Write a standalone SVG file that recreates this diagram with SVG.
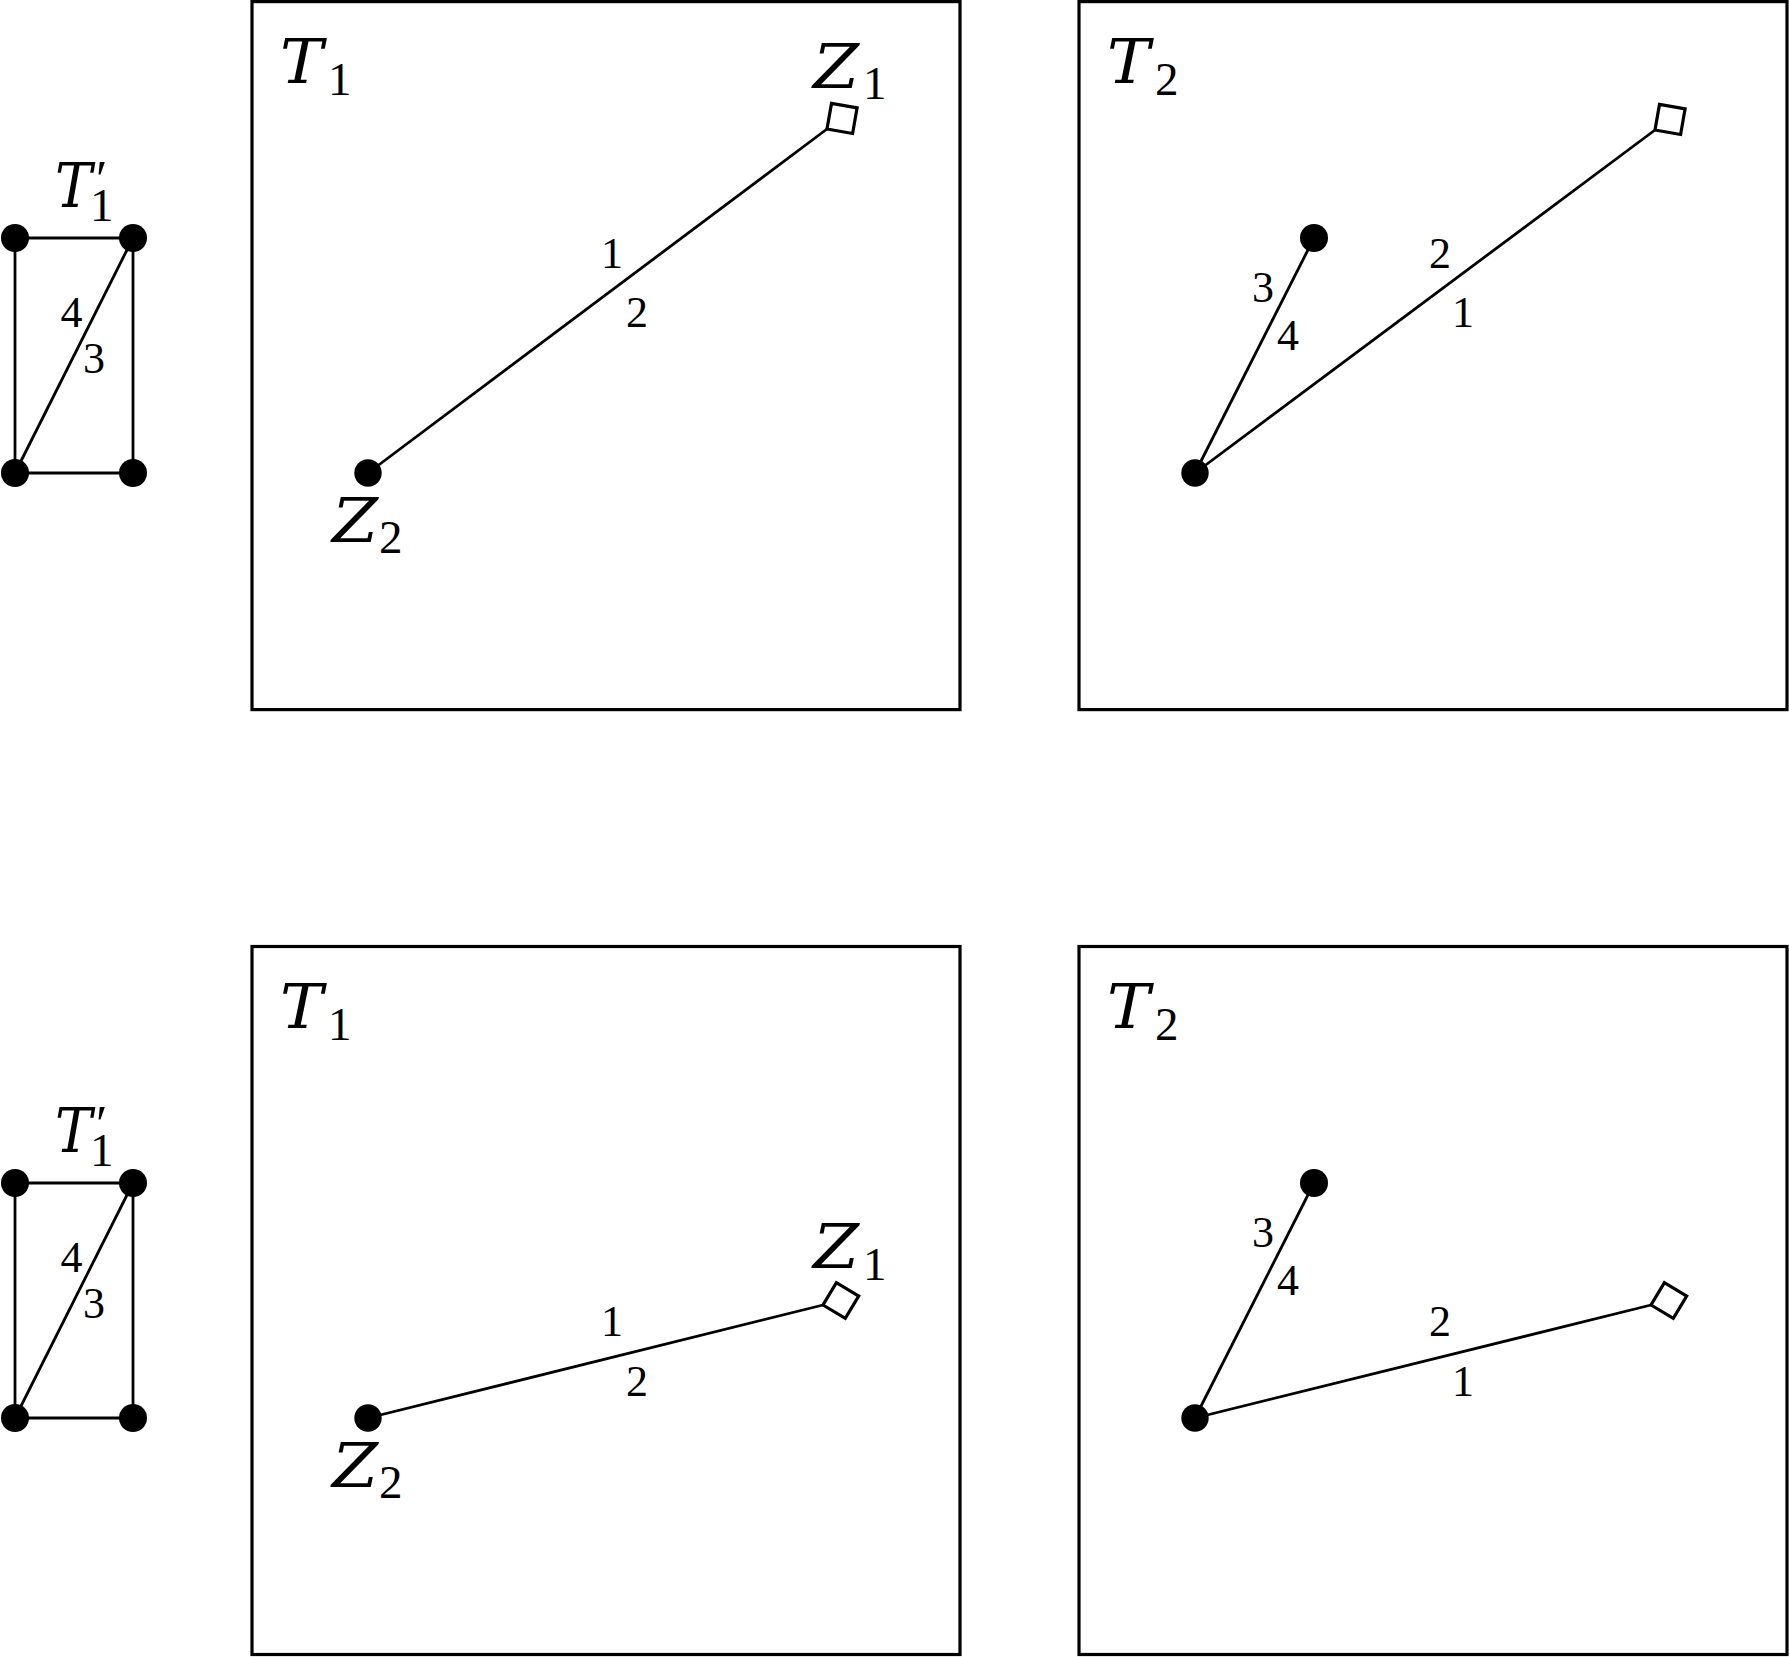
<svg xmlns="http://www.w3.org/2000/svg" width="1789" height="1657" viewBox="0 0 1789 1657">
<style>
.box{fill:none;stroke:#000;stroke-width:3.2}
.edge{fill:none;stroke:#000;stroke-width:2.8}
.dot{fill:#000}
.sq{fill:#fff;stroke:#000;stroke-width:3.2;stroke-linejoin:miter}
.big{font-family:"DejaVu Serif","Liberation Serif",serif;font-style:italic;font-size:61px;fill:#000}
.sub{font-family:"Liberation Serif","Times New Roman",serif;font-style:normal;font-size:47px}
.pr{font-family:"Liberation Serif","Times New Roman",serif;font-style:normal;font-size:52px}
.lbl{font-family:"Liberation Serif","Times New Roman",serif;font-size:44px;fill:#000;text-anchor:middle}
</style>
<rect width="1789" height="1657" fill="#fff"/>
<g id="frames">
<rect id="frame-T1-top" class="box" x="252" y="1.6" width="708" height="708"/>
<rect id="frame-T2-top" class="box" x="1079" y="1.6" width="708" height="708"/>
<rect id="frame-T1-bottom" class="box" x="252" y="946.5" width="708" height="708"/>
<rect id="frame-T2-bottom" class="box" x="1079" y="946.5" width="708" height="708"/>
</g>
<g id="connectors">
<line class="edge" x1="15" y1="238" x2="133" y2="238"/>
<line class="edge" x1="15" y1="238" x2="15" y2="473"/>
<line class="edge" x1="133" y1="238" x2="133" y2="473"/>
<line class="edge" x1="15" y1="473" x2="133" y2="473"/>
<line class="edge" x1="133" y1="238" x2="15" y2="473"/>
<line class="edge" x1="368" y1="473" x2="827" y2="129"/>
<line class="edge" x1="1195" y1="473" x2="1655" y2="130"/>
<line class="edge" x1="1195" y1="473" x2="1314" y2="238"/>
<line class="edge" x1="15" y1="1183" x2="133" y2="1183"/>
<line class="edge" x1="15" y1="1183" x2="15" y2="1418"/>
<line class="edge" x1="133" y1="1183" x2="133" y2="1418"/>
<line class="edge" x1="15" y1="1418" x2="133" y2="1418"/>
<line class="edge" x1="133" y1="1183" x2="15" y2="1418"/>
<line class="edge" x1="368" y1="1418" x2="823" y2="1305"/>
<line class="edge" x1="1195" y1="1418" x2="1651" y2="1305"/>
<line class="edge" x1="1195" y1="1418" x2="1314" y2="1183"/>
</g>
<g id="edge-labels">
<text class="lbl" x="71.5" y="327">4</text>
<text class="lbl" x="94" y="373">3</text>
<text class="lbl" x="612" y="268">1</text>
<text class="lbl" x="637" y="327">2</text>
<text class="lbl" x="1440" y="268">2</text>
<text class="lbl" x="1463" y="327">1</text>
<text class="lbl" x="1263" y="302">3</text>
<text class="lbl" x="1288" y="350">4</text>
<text class="lbl" x="71.5" y="1272">4</text>
<text class="lbl" x="94" y="1318">3</text>
<text class="lbl" x="612" y="1336">1</text>
<text class="lbl" x="637" y="1396">2</text>
<text class="lbl" x="1440" y="1336">2</text>
<text class="lbl" x="1463" y="1396">1</text>
<text class="lbl" x="1263" y="1247">3</text>
<text class="lbl" x="1288" y="1295">4</text>
</g>
<g id="small-top">
<circle class="dot" cx="15" cy="238" r="14"/>
<circle class="dot" cx="133" cy="238" r="14"/>
<circle class="dot" cx="15" cy="473" r="14"/>
<circle class="dot" cx="133" cy="473" r="14"/>
<text class="big" x="55" y="207"><tspan textLength="37" lengthAdjust="spacingAndGlyphs">T</tspan><tspan class="pr" x="96" y="197">′</tspan><tspan class="sub" x="90" y="221">1</tspan></text>
</g>
<g id="small-bottom">
<circle class="dot" cx="15" cy="1183" r="14"/>
<circle class="dot" cx="133" cy="1183" r="14"/>
<circle class="dot" cx="15" cy="1418" r="14"/>
<circle class="dot" cx="133" cy="1418" r="14"/>
<text class="big" x="55" y="1152"><tspan textLength="37" lengthAdjust="spacingAndGlyphs">T</tspan><tspan class="pr" x="96" y="1142">′</tspan><tspan class="sub" x="90" y="1166">1</tspan></text>
</g>
<g id="T1-top">
<text class="big" x="280" y="83"><tspan textLength="43" lengthAdjust="spacingAndGlyphs">T</tspan><tspan class="sub" x="328" y="95">1</tspan></text>
<g id="Z1-top"><polygon class="sq" points="827,129 852.6,133.5 857.1,107.9 831.5,103.4"/>
<text class="big" x="813" y="88"><tspan textLength="46" lengthAdjust="spacingAndGlyphs">Z</tspan><tspan class="sub" x="863" y="99">1</tspan></text></g>
<g id="Z2-top"><circle class="dot" cx="368" cy="473" r="13.7"/>
<text class="big" x="332" y="542"><tspan textLength="46" lengthAdjust="spacingAndGlyphs">Z</tspan><tspan class="sub" x="379" y="553">2</tspan></text></g>
</g>
<g id="T2-top">
<text class="big" x="1107" y="83"><tspan textLength="43" lengthAdjust="spacingAndGlyphs">T</tspan><tspan class="sub" x="1155" y="95">2</tspan></text>
<polygon id="sq-T2-top" class="sq" points="1655,130 1680.6,134.5 1685.1,108.9 1659.5,104.4"/>
<circle id="dot-T2-top-low" class="dot" cx="1195" cy="473" r="13.7"/>
<circle id="dot-T2-top-high" class="dot" cx="1314" cy="238" r="14"/>
</g>
<g id="T1-bottom">
<text class="big" x="280" y="1028"><tspan textLength="43" lengthAdjust="spacingAndGlyphs">T</tspan><tspan class="sub" x="328" y="1040">1</tspan></text>
<g id="Z1-bottom"><polygon class="sq" points="823,1305 845.3,1318.4 858.7,1296.1 836.4,1282.7"/>
<text class="big" x="813" y="1268"><tspan textLength="46" lengthAdjust="spacingAndGlyphs">Z</tspan><tspan class="sub" x="863" y="1280">1</tspan></text></g>
<g id="Z2-bottom"><circle class="dot" cx="368" cy="1418" r="13.7"/>
<text class="big" x="332" y="1487"><tspan textLength="46" lengthAdjust="spacingAndGlyphs">Z</tspan><tspan class="sub" x="379" y="1498">2</tspan></text></g>
</g>
<g id="T2-bottom">
<text class="big" x="1107" y="1028"><tspan textLength="43" lengthAdjust="spacingAndGlyphs">T</tspan><tspan class="sub" x="1155" y="1040">2</tspan></text>
<polygon id="sq-T2-bottom" class="sq" points="1651,1305 1673.3,1318.4 1686.7,1296.1 1664.4,1282.7"/>
<circle id="dot-T2-bottom-low" class="dot" cx="1195" cy="1418" r="13.7"/>
<circle id="dot-T2-bottom-high" class="dot" cx="1314" cy="1183" r="14"/>
</g>
</svg>
